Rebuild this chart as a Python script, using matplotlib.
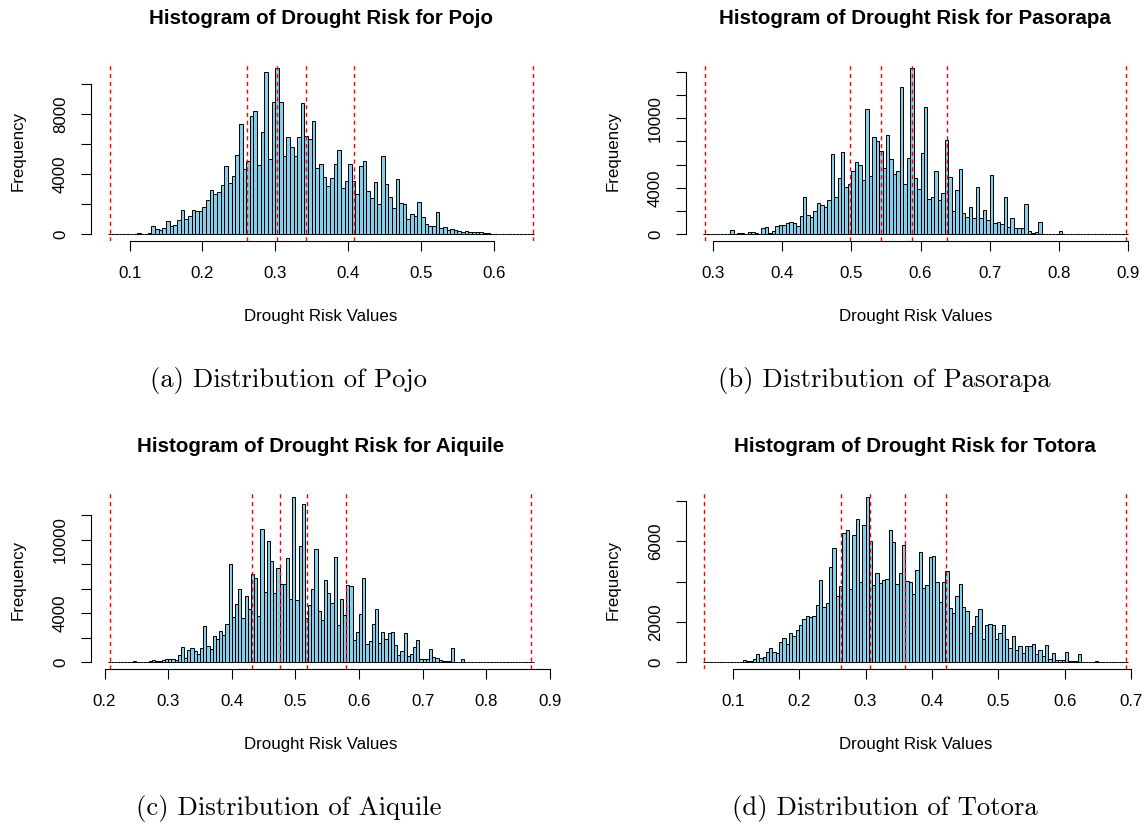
import numpy as np
import matplotlib
matplotlib.use("Agg")
import matplotlib.pyplot as plt
from matplotlib import transforms as mtrans

# ---------------- data ----------------
bin_width = 0.005

pojo_start = 0.070
pojo_counts = [10, 5, 5, 15, 20, 30, 40, 30, 110, 40, 40, 60,
               532, 355, 266, 443, 865, 554, 599, 931, 1596, 998, 1219, 1641, 1530, 1530,
               1840, 2261, 2926, 2683, 2793, 3259, 4523, 3392, 3858, 5254,
               7360, 4345, 4855, 7870, 8225, 4633, 6784, 10775, 4988, 8779,
               11040, 8779, 5232, 6451, 5831, 5188, 6451, 8713, 6518, 6318,
               7516, 4434, 4700, 3813, 3215, 3725, 4678, 5587, 3082, 3547,
               4700, 3569, 2660, 4523, 4855, 2860, 2439, 3481, 2040, 5232,
               3326, 2505, 1774, 3680, 2084, 2017, 998, 1375, 1219, 2150,
               1131, 709, 554, 532, 1463, 399, 466, 288, 377, 266,
               222, 155, 200, 155, 177, 133, 155, 70, 60, 45,
               40, 30, 25, 20, 15, 10, 8, 5, 5, 3, 2]
pojo_lines = [0.0725, 0.261, 0.302, 0.3427, 0.4078, 0.654]
pojo_xticks = [0.1, 0.2, 0.3, 0.4, 0.5, 0.6]
pojo_yticks = [0, 2000, 4000, 6000, 8000, 10000]
pojo_ylabels = ["0", "", "4000", "", "8000", ""]

pasorapa_start = 0.285
pasorapa_counts = [40, 0, 0, 0, 0, 5, 5, 10,
                   348, 30, 87, 87, 30, 174, 232, 145, 58, 522, 667, 116, 290, 725, 783,
                   783, 1015, 1073, 986, 754, 1537, 3190, 1682, 1450, 2030,
                   2726, 2494, 2320, 2958, 6873, 3190, 4814, 7076, 4060, 4292,
                   5452, 6235, 5945, 4669, 10817, 5017, 8352, 8004, 7134, 5742,
                   8555, 6496, 5220, 5481, 12644, 4292, 6525, 14297, 4814, 3915,
                   6989, 10962, 3074, 3219, 5423, 2987, 3538, 8149, 4901, 2001,
                   3799, 5655, 1827, 1508, 2378, 1421, 4031, 1392, 2088, 1218,
                   5133, 986, 1073, 899, 3248, 638, 1392, 522, 580, 580,
                   2639, 261, 116, 203, 1102, 29, 29, 20, 20, 15,
                   290, 30, 20, 15, 10, 10, 10, 5, 5, 5,
                   5, 5, 5, 3, 3, 3, 2, 2, 2, 5]
pasorapa_lines = [0.2884, 0.498, 0.543, 0.587, 0.638, 0.897]
pasorapa_xticks = [0.3, 0.4, 0.5, 0.6, 0.7, 0.8, 0.9]
pasorapa_yticks = [0, 2000, 4000, 6000, 8000, 10000, 12000, 14000]
pasorapa_ylabels = ["0", "", "4000", "", "", "10000", "", ""]

aiquile_start = 0.205
aiquile_counts = [20, 0, 0, 0, 54, 10, 10, 10, 136, 30, 30, 30, 30,
                  80, 220, 80, 136, 190, 245, 245, 245, 163,
                  626, 1251, 381, 1006, 1197, 898, 707, 1142, 2992, 1360,
                  1115, 2149, 1931, 2530, 2258, 3128, 8024, 3699, 4760, 6011,
                  3645, 5386, 4380, 7235, 6909, 3754, 10907, 5739, 9928, 8242,
                  5630, 7725, 6392, 6392, 8514, 5168, 13518, 5086, 9520, 12893,
                  3618, 4706, 5957, 9248, 4189, 3482, 6692, 5685, 4842, 8595,
                  3046, 5168, 3863, 6310, 6229, 1850, 2448, 3971, 6882, 1523,
                  1714, 3101, 4325, 1605, 2475, 1931, 2421, 2503, 1387, 571,
                  952, 2366, 544, 653, 1251, 1795, 299, 299, 299, 1088,
                  462, 381, 163, 136, 136, 136, 1197, 54, 54, 299,
                  20, 15, 10, 10, 10, 10, 10, 40, 10, 10,
                  30, 5, 5, 3, 3, 3, 2, 2, 2, 2, 2, 5]
aiquile_lines = [0.208, 0.4323, 0.4764, 0.5185, 0.580, 0.8705]
aiquile_xticks = [0.2, 0.3, 0.4, 0.5, 0.6, 0.7, 0.8, 0.9]
aiquile_yticks = [0, 2000, 4000, 6000, 8000, 10000, 12000]
aiquile_ylabels = ["0", "", "4000", "", "", "10000", ""]

totora_start = 0.055
totora_counts = [20, 0, 0, 0, 0, 0, 5, 33, 10, 10, 10, 33,
                 115, 66, 82, 148, 429, 231, 264, 528, 726, 511, 478, 1006,
                 1204, 924, 1468, 1303, 1584, 1832, 2145, 2293, 2227, 2293,
                 2854, 4059, 2755, 2953, 4735, 5676, 3300, 3779, 6402, 6567,
                 3630, 6320, 7112, 3977, 6831, 8217, 6039, 3845, 4439, 3944,
                 4059, 4158, 6584, 5957, 3895, 4455, 5808, 4010, 3960, 3400,
                 4587, 5478, 3663, 3845, 5230, 5264, 3993, 2970, 3993, 4521,
                 2706, 2426, 3267, 3894, 2756, 2541, 1469, 1815, 2277, 2657,
                 1139, 1848, 1898, 1832, 1172, 1469, 1848, 1172, 693, 1320,
                 611, 825, 462, 825, 825, 908, 396, 627, 297, 842,
                 182, 478, 115, 115, 115, 495, 82, 82, 82, 396,
                 33, 20, 20, 20, 66, 15, 10, 10, 5, 5, 5, 3, 3, 5]
totora_lines = [0.0575, 0.263, 0.3065, 0.360, 0.421, 0.6925]
totora_xticks = [0.1, 0.2, 0.3, 0.4, 0.5, 0.6, 0.7]
totora_yticks = [0, 2000, 4000, 6000, 8000]
totora_ylabels = ["0", "2000", "", "6000", ""]

names = ["Pojo", "Pasorapa", "Aiquile", "Totora"]
captions = ["(a) Distribution of Pojo", "(b) Distribution of Pasorapa",
            "(c) Distribution of Aiquile", "(d) Distribution of Totora"]

# ---------------- layout ----------------
W, H = 1147, 824
DPI = 100
fig = plt.figure(figsize=(W / DPI, H / DPI), dpi=DPI)

SANS = ["Liberation Sans", "DejaVu Sans"]
FS = 12.2
TFS = 14.8
CFS = 19.2

boxes = [(90.7, 61.5, 551.0, 241.0), (685.7, 61.5, 1145.0, 241.0),
         (90.7, 490.0, 551.0, 669.0), (685.7, 490.0, 1145.0, 669.0)]
caption_xy = [(289, 381), (884, 381), (289, 809), (885, 809)]

panels = [
    (pojo_start, pojo_counts, pojo_lines, pojo_xticks, pojo_yticks, pojo_ylabels),
    (pasorapa_start, pasorapa_counts, pasorapa_lines, pasorapa_xticks, pasorapa_yticks, pasorapa_ylabels),
    (aiquile_start, aiquile_counts, aiquile_lines, aiquile_xticks, aiquile_yticks, aiquile_ylabels),
    (totora_start, totora_counts, totora_lines, totora_xticks, totora_yticks, totora_ylabels),
]


def px_axes(l, t, r, b):
    return fig.add_axes([l / W, 1 - b / H, (r - l) / W, (b - t) / H])


def px(v):
    return v / DPI


for i, (start, counts, lines, xt, yt, ylabs) in enumerate(panels):
    l, t, r, b = boxes[i]
    ax = px_axes(l, t, r, b)
    counts = np.asarray(counts, dtype=float)
    n = len(counts)
    edges = start + bin_width * np.arange(n + 1)
    ax.bar(edges[:-1], counts, width=bin_width, align="edge",
           color="#87CEEB", edgecolor="black", linewidth=0.7, zorder=2)
    for v in lines:
        ax.axvline(v, color="red", linestyle=(0, (3, 2.6)), linewidth=1.0, zorder=3)

    lo, hi = edges[0], edges[-1]
    rng = hi - lo
    ax.set_xlim(lo - 0.04 * rng, hi + 0.04 * rng)
    ymax = counts.max()
    ax.set_ylim(-0.04 * ymax, 1.04 * ymax)

    ax.patch.set_visible(False)
    for s in ["top", "right"]:
        ax.spines[s].set_visible(False)
    for s in ["bottom", "left"]:
        ax.spines[s].set_linewidth(0.8)
        ax.spines[s].set_color("black")
    ax.spines["bottom"].set_bounds(xt[0], xt[-1])
    ax.spines["left"].set_bounds(yt[0], yt[-1])
    ax.set_xticks(xt)
    ax.set_yticks(yt)
    ax.tick_params(axis="both", direction="out", length=7.2, width=0.8,
                   color="black", labelbottom=False, labelleft=False)

    # tick labels (R style)
    tx = mtrans.blended_transform_factory(ax.transData, ax.transAxes) + \
        mtrans.ScaledTranslation(0, -px(37), fig.dpi_scale_trans)
    for v in xt:
        ax.text(v, 0, f"{v:.1f}", transform=tx, ha="center", va="baseline",
                fontsize=FS, family=SANS, clip_on=False)
    ty = mtrans.blended_transform_factory(ax.transAxes, ax.transData) + \
        mtrans.ScaledTranslation(-px(25.7), 0, fig.dpi_scale_trans)
    for v, s in zip(yt, ylabs):
        if s:
            ax.text(0, v, s, transform=ty, rotation=90, rotation_mode="anchor",
                    ha="center", va="baseline", fontsize=FS, family=SANS, clip_on=False)

    # titles and axis labels
    cx = (l + r) / 2
    fig.text(cx / W, 1 - 18.5 / (H) - (t - 61.5) / H, f"Histogram of Drought Risk for {names[i]}",
             ha="center", va="center", fontsize=TFS, fontweight="bold", family=SANS)
    fig.text(cx / W, 1 - (b + 76) / H, "Drought Risk Values",
             ha="center", va="center", fontsize=FS, family=SANS)
    fig.text((l - 73) / W, 1 - ((t + b) / 2) / H, "Frequency", rotation=90,
             ha="center", va="center", fontsize=FS, family=SANS)

    # caption
    capx, capy = caption_xy[i]
    fig.text(capx / W, 1 - capy / H, captions[i], ha="center", va="center",
             fontsize=CFS, family=["cmr10", "DejaVu Serif"])

fig.savefig("out.png", dpi=DPI, facecolor="white")
